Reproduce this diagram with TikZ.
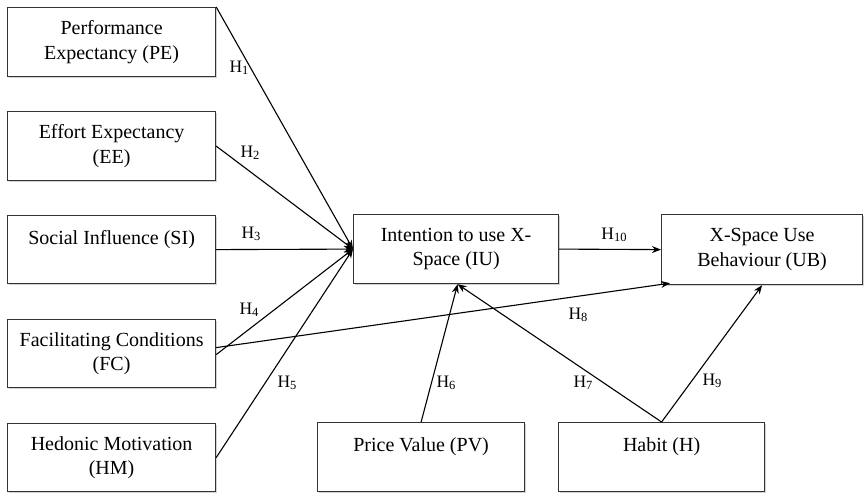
\documentclass[tikz,border=0pt]{standalone}
\usepackage{fontspec}
\setmainfont{Liberation Serif}
\usetikzlibrary{arrows.meta,shadows,calc}

\tikzset{
  box/.style={draw=black!80, line width=1.2pt, fill=white, rectangle,
    anchor=north west, inner sep=0pt, align=center,
    font=\fontsize{20}{24.5}\selectfont,
    drop shadow={shadow xshift=1.2pt, shadow yshift=-1.6pt, opacity=0.35}},
  toplabel/.style={font=\fontsize{20}{24.5}\selectfont, anchor=base},
  link/.style={line width=1.1pt, -{Stealth[length=9pt,width=7pt]}},
  hyp/.style={font=\fontsize{17.5}{20}\selectfont, inner sep=0pt}
}
\newcommand{\hy}[1]{H\raisebox{-0.3ex}{\fontsize{12.5}{14}\selectfont #1}}

\begin{document}
\begin{tikzpicture}[x=1pt,y=-1pt]
\useasboundingbox (0,0) rectangle (868,493);

% constructs on the left
\node[box, minimum width=208pt, minimum height=69pt] (pe) at (7,7) {Performance\\Expectancy (PE)};
\node[box, minimum width=208pt, minimum height=69pt] (ee) at (7,111) {Effort Expectancy\\(EE)};
\node[box, minimum width=208pt, minimum height=68pt] (si) at (7,215) {};
\node[toplabel] at ($(si.north)+(0,29)$) {Social Influence (SI)};
\node[box, minimum width=208pt, minimum height=68pt] (fc) at (7,319) {Facilitating Conditions\\(FC)};
\node[box, minimum width=208pt, minimum height=68pt] (hm) at (7,423) {Hedonic Motivation\\(HM)};

% intention and behaviour
\node[box, minimum width=205pt, minimum height=69pt] (iu) at (353,214) {Intention to use X-\\Space (IU)};
\node[box, minimum width=201pt, minimum height=70pt] (ub) at (661,214) {X-Space Use\\Behaviour (UB)};

% constructs at the bottom
\node[box, minimum width=207pt, minimum height=69pt] (pv) at (317,422) {};
\node[toplabel] at ($(pv.north)+(0,29)$) {Price Value (PV)};
\node[box, minimum width=206pt, minimum height=69pt] (hb) at (558,422) {};
\node[toplabel] at ($(hb.north)+(0,29)$) {Habit (H)};

% hypothesised paths
\draw[link] (pe.north east) -- (iu.west);
\draw[link] (ee.east) -- (iu.west);
\draw[link] (si.east) -- (iu.west);
\draw[link] ([yshift=-1pt]fc.east) -- (iu.west);
\draw[link] (hm.east) -- (iu.west);
\draw[link] ([yshift=6pt]fc.east) -- ([xshift=9pt,yshift=2pt]ub.south west);
\draw[link] (pv.north) -- ([xshift=1.5pt]iu.south);
\draw[link] (hb.north) -- ([xshift=1.5pt]iu.south);
\draw[link] (hb.north) -- (ub.south);
\draw[link] (iu.east) -- (ub.west);

% hypothesis labels
\node[hyp] (h1) at (239,68) {\hy{1}};
\node[hyp] (h2) at (250,153) {\hy{2}};
\node[hyp] (h3) at (251,234) {\hy{3}};
\node[hyp] (h4) at (249,310) {\hy{4}};
\node[hyp] (h5) at (287,383) {\hy{5}};
\node[hyp] (h6) at (446,383) {\hy{6}};
\node[hyp] (h7) at (583,383) {\hy{7}};
\node[hyp] (h8) at (578,315) {\hy{8}};
\node[hyp] (h9) at (712,381) {\hy{9}};
\node[hyp] (h10) at (614,235) {\hy{10}};
\end{tikzpicture}
\end{document}
